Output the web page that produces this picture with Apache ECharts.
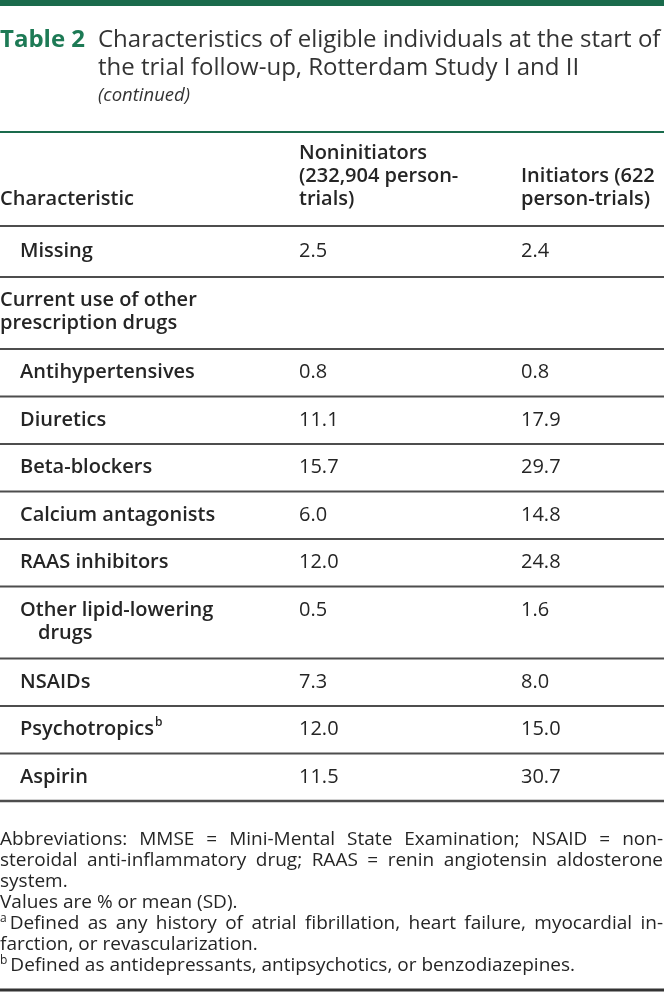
<!DOCTYPE html>
<html><head><meta charset="utf-8">
<script src="https://cdn.jsdelivr.net/npm/echarts@6/dist/echarts.min.js"></script>
<style>html,body{margin:0;padding:0;background:#fff}#c{width:664px;height:996px}</style>
</head><body><div id="c"></div>
<script>
// ---------- data ----------
const tableNumber = 'Table 2';
const titleLines = ['Characteristics of eligible individuals at the start of', 'the trial follow-up, Rotterdam Study I and II'];
const titleNote = '(continued)';
const columnHeaders = [
  ['Characteristic'],
  ['Noninitiators', '(232,904 person-', 'trials)'],
  ['Initiators (622', 'person-trials)']
];
const rowLabels = [
  ['Missing'],
  ['Current use of other', 'prescription drugs'],
  ['Antihypertensives'],
  ['Diuretics'],
  ['Beta-blockers'],
  ['Calcium antagonists'],
  ['RAAS inhibitors'],
  ['Other lipid-lowering', 'drugs'],
  ['NSAIDs'],
  ['Psychotropics'],
  ['Aspirin']
];
const rowSuperscripts = ['', '', '', '', '', '', '', '', '', 'b', ''];
const rowIsGroup = [false, true, false, false, false, false, false, false, false, false, false];
const nonInitiators = ['2.5', '', '0.8', '11.1', '15.7', '6.0', '12.0', '0.5', '7.3', '12.0', '11.5'];
const initiators = ['2.4', '', '0.8', '17.9', '29.7', '14.8', '24.8', '1.6', '8.0', '15.0', '30.7'];
const footnoteLines = [
  ['', 'Abbreviations: MMSE = Mini-Mental State Examination; NSAID = non-', true],
  ['', 'steroidal anti-inflammatory drug; RAAS = renin angiotensin aldosterone', true],
  ['', 'system.', false],
  ['', 'Values are % or mean (SD).', false],
  ['a', 'Defined as any history of atrial fibrillation, heart failure, myocardial in-', true],
  ['', 'farction, or revascularization.', false],
  ['b', 'Defined as antidepressants, antipsychotics, or benzodiazepines.', false]
];

// ---------- layout (not data) ----------
const W = 664;
const FAM = '"Open Sans", "Noto Sans", sans-serif';
const GREEN = '#1a6b4c';
const TEXT = '#252525';
const RULE = '#4d4d4d';
const colX = [0, 299, 521];
const rowHeights = [51, 72, 47.5, 47.5, 47.5, 47.5, 47.5, 72, 47.5, 47.5, 47.5];
const BODY = 20;
const mctx = document.createElement('canvas').getContext('2d');
function measure(t, font) { mctx.font = font; return mctx.measureText(t).width; }
function txt(t, x, y, size, weight, fill, extra) {
  return Object.assign({
    type: 'text', x: x, y: y, silent: true,
    style: Object.assign({ text: t, fontFamily: FAM, fontSize: size, fontWeight: weight, fill: fill,
      textVerticalAlign: 'middle', textAlign: 'left' }, (extra && extra.style) || {})
  }, (extra && extra.el) || {});
}
function rule(y, w, color) {
  return { type: 'rect', silent: true, shape: { x: 0, y: y - w / 2, width: W, height: w }, style: { fill: color } };
}

const els = [];
els.push({ type: 'rect', silent: true, shape: { x: 0, y: 0, width: W, height: 6 }, style: { fill: GREEN } });
els.push(txt(tableNumber, 0, 40, 24, 'bold', '#1d7a55'));
titleLines.forEach((t, i) => els.push(txt(t, 98, 40 + i * 28, 24, 'normal', '#333')));
els.push(txt(titleNote, 98, 96, 18.5, 'normal', '#333', { style: { fontStyle: 'italic' } }));
els.push(rule(132, 2, GREEN));

const HL = 23;
const headerBase = 199;
columnHeaders.forEach((lines, c) => {
  lines.forEach((t, i) => {
    const y = headerBase - (lines.length - 1 - i) * HL;
    els.push(txt(t, colX[c], y, BODY, 600, TEXT));
  });
});
els.push(rule(226, 2, RULE));

const LH = 23;
let rowTop = 226;
rowLabels.forEach((lines, r) => {
  const h = rowHeights[r];
  const y0 = rowTop + (lines.length === 1 ? h / 2 : 23.5);
  const indent = rowIsGroup[r] ? 0 : 20;
  lines.forEach((t, i) => {
    const x = indent + (i > 0 && !rowIsGroup[r] ? 18 : 0);
    els.push(txt(t, x, y0 + i * LH, BODY, 600, TEXT));
    if (i === 0 && rowSuperscripts[r]) {
      const w = measure(t, '600 ' + BODY + 'px ' + FAM);
      els.push(txt(rowSuperscripts[r], x + w + 1, y0 - 7, 12, 600, TEXT));
    }
  });
  els.push(txt(nonInitiators[r], colX[1], y0, BODY, 'normal', TEXT));
  els.push(txt(initiators[r], colX[2], y0, BODY, 'normal', TEXT));
  rowTop += h;
  els.push(rule(rowTop, r === rowLabels.length - 1 ? 2.5 : 2, RULE));
});

const FS = 19, FL = 21;
const ffont = 'normal ' + FS + 'px ' + FAM;
let fy = rowTop + 39;
footnoteLines.forEach(([sup, t, just]) => {
  let x = 0;
  if (sup) {
    els.push(txt(sup, 0, fy - 5, 12, 'normal', TEXT));
    x = measure(sup, 'normal 12px ' + FAM) + 3;
  }
  if (just) {
    const words = t.split(' ');
    const ws = words.map(w => measure(w, ffont));
    const sum = ws.reduce((a, b) => a + b, 0);
    const gap = Math.max(3, (W - 1 - x - sum) / (words.length - 1));
    let cx = x;
    words.forEach((w, i) => { els.push(txt(w, cx, fy, FS, 'normal', TEXT)); cx += ws[i] + gap; });
  } else {
    els.push(txt(t, x, fy, FS, 'normal', TEXT));
  }
  fy += FL;
});
els.push(rule(990, 3, '#333'));

const chart = echarts.init(document.getElementById('c'), null, { renderer: 'canvas' });
chart.setOption({ backgroundColor: '#fff', animation: false, graphic: { elements: els } });
</script></body></html>
